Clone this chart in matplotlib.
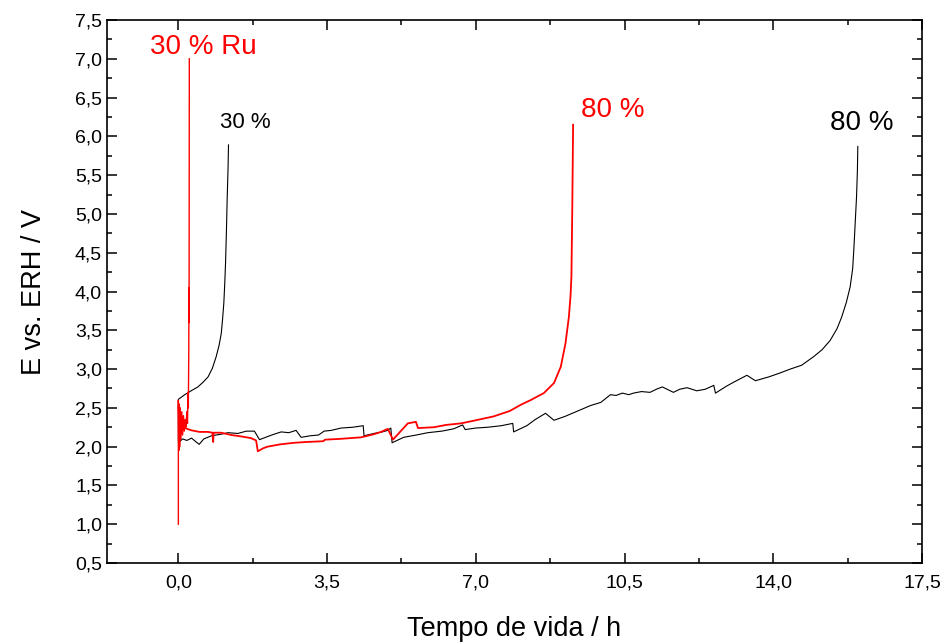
import matplotlib
matplotlib.use('Agg')
import matplotlib.pyplot as plt
from matplotlib.ticker import MultipleLocator, FuncFormatter

plt.rcParams['font.family'] = ['Liberation Sans', 'DejaVu Sans']

# 30 % (black) - life test curve
black30_x = [0.0, 0.0, 0.15, 0.30, 0.46, 0.58, 0.70, 0.80, 0.89, 0.96, 1.01, 1.04, 1.07, 1.09,
             1.11, 1.13, 1.15, 1.17, 1.18]
black30_y = [2.08, 2.61, 2.67, 2.72, 2.77, 2.83, 2.90, 3.01, 3.16, 3.31, 3.46, 3.64, 3.85, 4.08,
             4.36, 4.75, 5.22, 5.60, 5.89]

# 80 % (black)
black80_x = [0.0, 0.1, 0.2, 0.31, 0.42, 0.49, 0.6, 0.78, 1.0, 1.17, 1.4, 1.6, 1.79, 1.91, 2.1, 2.25,
             2.42, 2.6, 2.77, 2.89, 3.1, 3.3, 3.43, 3.6, 3.83, 4.1, 4.35, 4.37, 4.6, 4.8, 4.93, 5.0,
             5.03, 5.3, 5.6, 5.87, 6.2, 6.48, 6.69, 6.75, 7.0, 7.28, 7.6, 7.87, 7.89, 8.2, 8.4, 8.64,
             8.84, 9.1, 9.4, 9.7, 9.94, 10.17, 10.3, 10.45, 10.6, 10.71, 10.9, 11.1, 11.25, 11.39,
             11.65, 11.8, 11.97, 12.2, 12.4, 12.6, 12.64, 12.9, 13.1, 13.38, 13.58, 13.9, 14.16,
             14.4, 14.67, 14.95, 15.15, 15.34, 15.5, 15.61, 15.72, 15.81, 15.87, 15.9, 15.93, 15.96,
             15.98, 15.99]
black80_y = [2.05, 2.10, 2.08, 2.11, 2.06, 2.03, 2.10, 2.14, 2.16, 2.18, 2.17, 2.20, 2.20, 2.09, 2.13, 2.16,
             2.19, 2.18, 2.21, 2.12, 2.14, 2.15, 2.20, 2.21, 2.24, 2.25, 2.27, 2.14, 2.17, 2.19, 2.21, 2.24,
             2.05, 2.12, 2.15, 2.18, 2.20, 2.23, 2.28, 2.22, 2.24, 2.25, 2.27, 2.30, 2.19, 2.27, 2.35, 2.43,
             2.34, 2.39, 2.46, 2.53, 2.57, 2.67, 2.66, 2.69, 2.67, 2.69, 2.71, 2.70, 2.74, 2.77,
             2.70, 2.74, 2.76, 2.72, 2.74, 2.79, 2.69, 2.78, 2.84, 2.92, 2.85, 2.90, 2.95,
             3.00, 3.05, 3.16, 3.25, 3.37, 3.52, 3.67, 3.86, 4.06, 4.30, 4.58, 4.90, 5.22,
             5.55, 5.87]

# 30 % Ru (red)
red30_x = [0.0, 0.0, 0.01, 0.02, 0.03, 0.045, 0.06, 0.08, 0.10, 0.12, 0.14, 0.16, 0.18, 0.20,
           0.215, 0.225, 0.235, 0.245, 0.25, 0.252, 0.255, 0.258]
red30_y = [1.0, 2.6, 1.95, 2.55, 2.0, 2.5, 2.1, 2.45, 2.15, 2.4, 2.2, 2.35, 2.25, 2.45,
           2.3, 2.7, 2.5, 3.2, 4.05, 3.6, 5.2, 7.0]

# 80 % Ru (red)
red80_x = [0.0, 0.03, 0.08, 0.15, 0.31, 0.5, 0.7, 0.8, 0.82, 0.83, 1.0, 1.25, 1.5, 1.71, 1.83, 1.87,
           2.0, 2.1, 2.4, 2.73, 3.0, 3.41, 3.45, 3.8, 4.3, 4.6, 4.77, 4.93, 5.05, 5.2, 5.4, 5.59,
           5.64, 6.01, 6.3, 6.65, 7.0, 7.42, 7.8, 8.06, 8.29, 8.6, 8.84, 9.0, 9.11, 9.19, 9.23,
           9.25, 9.27, 9.29]
red80_y = [2.5, 2.35, 2.28, 2.24, 2.21, 2.19, 2.19, 2.18, 2.06, 2.18, 2.18, 2.15, 2.13, 2.11, 2.08, 1.94,
           1.98, 2.0, 2.03, 2.05, 2.06, 2.07, 2.09, 2.10, 2.12, 2.16, 2.19, 2.23, 2.09, 2.18, 2.30, 2.32,
           2.24, 2.25, 2.28, 2.30, 2.34, 2.39, 2.46, 2.54, 2.60, 2.69, 2.82, 3.03, 3.33, 3.67, 3.95,
           4.19, 5.05, 6.15]


def comma(v, pos):
    return f"{v:.1f}".replace('.', ',')


fig = plt.figure(figsize=(9.5, 6.43), dpi=100)
ax = fig.add_axes([0.1126, 0.1244, 0.8579, 0.8445])

ax.plot(black30_x, black30_y, color='black', linewidth=0.8)
ax.plot(black80_x, black80_y, color='black', linewidth=0.8)
ax.plot(red30_x, red30_y, color='red', linewidth=1.0)
ax.plot(red80_x, red80_y, color='red', linewidth=1.3)

ax.text(0.59, 7.15, "30 % Ru", color='red', fontsize=20, ha='center', va='center')
ax.text(1.57, 6.18, "30 %", color='black', fontsize=16, ha='center', va='center')
ax.text(10.22, 6.34, "80 %", color='red', fontsize=20, ha='center', va='center')
ax.text(16.09, 6.17, "80 %", color='black', fontsize=20, ha='center', va='center')

ax.set_xlim(-1.68, 17.5)
ax.set_ylim(0.5, 7.5)
ax.xaxis.set_major_locator(MultipleLocator(3.5))
ax.xaxis.set_minor_locator(MultipleLocator(1.75))
ax.yaxis.set_major_locator(MultipleLocator(0.5))
ax.yaxis.set_minor_locator(MultipleLocator(0.25))
ax.xaxis.set_major_formatter(FuncFormatter(comma))
ax.yaxis.set_major_formatter(FuncFormatter(comma))

ax.tick_params(which='both', direction='in', top=True, right=True, width=1.1)
ax.tick_params(which='major', length=7, labelsize=14)
ax.tick_params(which='minor', length=3.5)
ax.tick_params(axis='x', pad=8)
for s in ax.spines.values():
    s.set_linewidth(1.2)

ax.set_xlabel("Tempo de vida / h", fontsize=19.5, labelpad=18)
ax.set_ylabel("E vs. ERH / V", fontsize=19.5, labelpad=20)

fig.savefig("out.png", dpi=100)
